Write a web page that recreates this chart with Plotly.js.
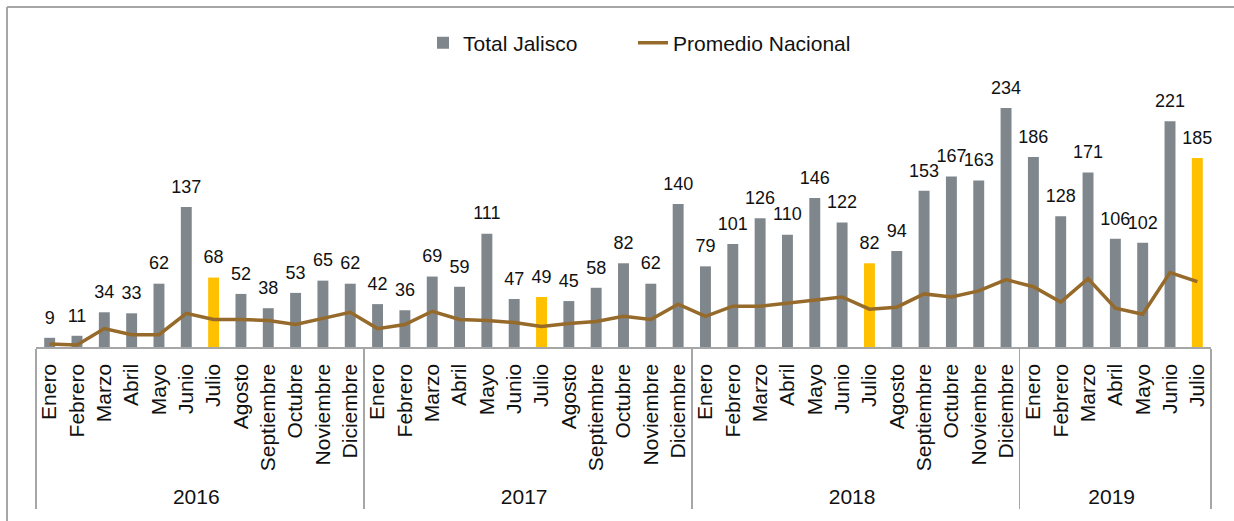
<!DOCTYPE html>
<html>
<head>
<meta charset="utf-8">
<script src="https://cdn.plot.ly/plotly-3.0.1.min.js"></script>
<style>html,body{margin:0;padding:0;background:#fff;}#chart{width:1234px;height:521px;}</style>
</head>
<body>
<div id="chart"></div>
<script>
const monthNames = ['Enero','Febrero','Marzo','Abril','Mayo','Junio','Julio','Agosto','Septiembre','Octubre','Noviembre','Diciembre'];
const years = ['2016','2017','2018','2019'];
const monthsPerYear = [12, 12, 12, 7];
const totalJalisco = [9,11,34,33,62,137,68,52,38,53,65,62,
                      42,36,69,59,111,47,49,45,58,82,62,140,
                      79,101,126,110,146,122,82,94,153,167,163,234,
                      186,128,171,106,102,221,185];
const promedioNacional = [3,2,18,12,12,33,27,27,26,22,28,34,
                          18,22,35,27,26,24,20,23,25,30,27,42,
                          30,40,40,43,46,49,37,39,52,49,55,66,
                          59,44,67,38,32,73,64];
const highlightMonth = 'Julio';

const xYears = [], xMonths = [];
years.forEach((y, i) => {
  for (let m = 0; m < monthsPerYear[i]; m++) { xYears.push(y); xMonths.push(monthNames[m]); }
});
const xs = [xYears, xMonths];
const barColors = xMonths.map(m => m === highlightMonth ? '#FFC000' : '#7F878D');

const fontFam = 'Arial, "Liberation Sans", sans-serif';

const traces = [
  {type: 'bar', name: 'Total Jalisco', x: xs, y: totalJalisco, showlegend: true, legend: 'legend',
   marker: {color: barColors}, hoverinfo: 'skip'},
  {type: 'scatter', mode: 'lines', name: 'Promedio Nacional', x: xs, y: promedioNacional, legend: 'legend2',
   line: {color: '#956A2A', width: 3.5}, hoverinfo: 'skip'},
  {type: 'scatter', mode: 'markers+text', x: xs, y: totalJalisco, showlegend: false,
   text: totalJalisco.map(String), textposition: 'top center',
   textfont: {family: fontFam, size: 18, color: '#111'},
   marker: {size: 14, opacity: 0}, hoverinfo: 'skip', cliponaxis: false}
];

const pxL = 36, pxR = 1211, pxT = 75, pxB = 347;
const pw = pxR - pxL, ph = pxB - pxT;
const px2x = p => (p - pxL) / pw;
const py2y = p => (pxB - p) / ph;

const legendFont = {family: fontFam, size: 21, color: '#111'};

const layout = {
  width: 1234, height: 521,
  margin: {l: pxL, r: 1234 - pxR, t: pxT, b: 521 - pxB, pad: 0},
  paper_bgcolor: '#fff', plot_bgcolor: '#fff',
  font: {family: fontFam, size: 21, color: '#111'},
  bargap: 0.6,
  showlegend: true,
  legend: {orientation: 'h', x: px2x(423), xanchor: 'left', y: py2y(43), yanchor: 'middle', font: legendFont},
  legend2: {orientation: 'h', x: px2x(633), xanchor: 'left', y: py2y(43), yanchor: 'middle', font: legendFont},
  xaxis: {type: 'multicategory', range: [-0.5, totalJalisco.length - 0.5], tickmode: 'linear', tick0: 0, dtick: 1,
          tickangle: -90, showline: true, linecolor: '#A6A6A6', linewidth: 1.5,
          showdividers: true, dividercolor: '#A6A6A6', dividerwidth: 1.5,
          ticks: '', showgrid: false, zeroline: false, ticklabelstandoff: 7,
          tickfont: {family: fontFam, size: 21, color: '#111'}},
  yaxis: {visible: false, range: [0, ph / 1.021], fixedrange: true},
  shapes: [
    {type: 'line', xref: 'paper', yref: 'paper', x0: px2x(7), x1: px2x(1234), y0: py2y(7), y1: py2y(7),
     line: {color: '#A6A6A6', width: 2}},
    {type: 'line', xref: 'paper', yref: 'paper', x0: px2x(7), x1: px2x(7), y0: py2y(7), y1: py2y(521),
     line: {color: '#A6A6A6', width: 2}}
  ]
};

Plotly.newPlot('chart', traces, layout, {displayModeBar: false, staticPlot: true});
</script>
</body>
</html>
